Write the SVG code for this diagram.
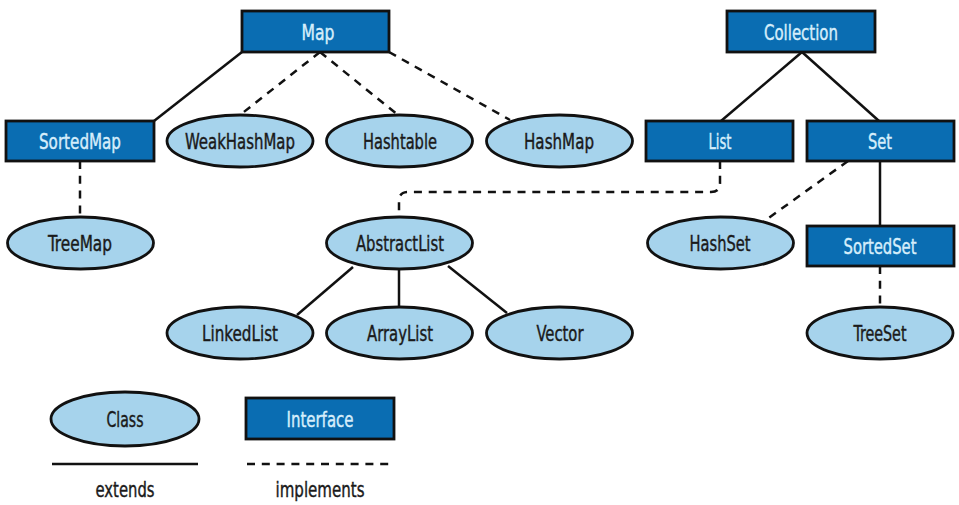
<svg xmlns="http://www.w3.org/2000/svg" width="959" height="505" viewBox="0 0 959 505">
<style>
.iface rect{fill:#0a6db2;stroke:#111;stroke-width:2.8}
.cls ellipse{fill:#a6d3ec;stroke:#111;stroke-width:2.8}
text{font-family:"DejaVu Sans Condensed","Liberation Sans",Arial,sans-serif;font-stretch:condensed;font-size:21px;text-anchor:middle;stroke-width:0.4}
.iface text{fill:#d6eefb;stroke:#d6eefb}
.cls text,.lbl{fill:#1a1a1a;stroke:#1a1a1a}
.ext{stroke:#111;stroke-width:2.5;fill:none}
.imp{stroke:#111;stroke-width:2.5;fill:none;stroke-dasharray:8,6.8}
</style>
<rect width="959" height="505" fill="#fff"/>
<g id="connectors">
<line class="ext" x1="242" y1="52" x2="154" y2="121"/>
<line class="imp" x1="320" y1="52" x2="240" y2="115"/>
<line class="imp" x1="320" y1="52" x2="398" y2="115"/>
<line class="imp" x1="389" y1="52" x2="510" y2="120"/>
<line class="imp" x1="80" y1="161" x2="80" y2="217"/>
<line class="ext" x1="802" y1="52" x2="721" y2="121"/>
<line class="ext" x1="802" y1="52" x2="879" y2="121"/>
<line class="ext" x1="880" y1="161" x2="880" y2="226"/>
<line class="imp" x1="848" y1="161" x2="763" y2="222"/>
<path class="imp" d="M720,161 V183 Q720,192 711,192 H408 Q399,192 399,201 V217"/>
<line class="ext" x1="353" y1="267" x2="297" y2="315"/>
<line class="ext" x1="399" y1="269" x2="399" y2="307"/>
<line class="ext" x1="448" y1="266" x2="507" y2="313"/>
<line class="imp" x1="880" y1="266" x2="880" y2="307"/>
</g>
<g id="Map" class="iface"><rect x="242" y="11" width="147" height="41"/><text x="318" y="40" textLength="33" lengthAdjust="spacingAndGlyphs">Map</text></g>
<g id="SortedMap" class="iface"><rect x="6" y="121" width="148" height="40"/><text x="80" y="149" textLength="82" lengthAdjust="spacingAndGlyphs">SortedMap</text></g>
<g id="WeakHashMap" class="cls"><ellipse cx="240" cy="141" rx="73" ry="26"/><text x="240" y="149" textLength="110" lengthAdjust="spacingAndGlyphs">WeakHashMap</text></g>
<g id="Hashtable" class="cls"><ellipse cx="399.5" cy="141" rx="73" ry="26"/><text x="400" y="149" textLength="74" lengthAdjust="spacingAndGlyphs">Hashtable</text></g>
<g id="HashMap" class="cls"><ellipse cx="559.5" cy="141" rx="73" ry="26"/><text x="559" y="149" textLength="70" lengthAdjust="spacingAndGlyphs">HashMap</text></g>
<g id="TreeMap" class="cls"><ellipse cx="80.5" cy="243" rx="73" ry="26"/><text x="80" y="251" textLength="64" lengthAdjust="spacingAndGlyphs">TreeMap</text></g>
<g id="AbstractList" class="cls"><ellipse cx="399.5" cy="243" rx="73" ry="26"/><text x="400" y="251" textLength="88" lengthAdjust="spacingAndGlyphs">AbstractList</text></g>
<g id="Collection" class="iface"><rect x="727" y="11" width="148" height="41"/><text x="801" y="40" textLength="74" lengthAdjust="spacingAndGlyphs">Collection</text></g>
<g id="List" class="iface"><rect x="646" y="121" width="147" height="40"/><text x="720" y="149" textLength="23" lengthAdjust="spacingAndGlyphs">List</text></g>
<g id="Set" class="iface"><rect x="807" y="121" width="147" height="40"/><text x="880" y="149" textLength="24" lengthAdjust="spacingAndGlyphs">Set</text></g>
<g id="HashSet" class="cls"><ellipse cx="720.5" cy="243" rx="73" ry="26"/><text x="720" y="251" textLength="61" lengthAdjust="spacingAndGlyphs">HashSet</text></g>
<g id="SortedSet" class="iface"><rect x="807" y="226" width="147" height="40"/><text x="880" y="254" textLength="73" lengthAdjust="spacingAndGlyphs">SortedSet</text></g>
<g id="LinkedList" class="cls"><ellipse cx="240" cy="333" rx="73" ry="26"/><text x="240" y="341" textLength="76" lengthAdjust="spacingAndGlyphs">LinkedList</text></g>
<g id="ArrayList" class="cls"><ellipse cx="399.5" cy="333" rx="73" ry="26"/><text x="400" y="341" textLength="66" lengthAdjust="spacingAndGlyphs">ArrayList</text></g>
<g id="Vector" class="cls"><ellipse cx="559.5" cy="333" rx="73" ry="26"/><text x="560" y="341" textLength="47" lengthAdjust="spacingAndGlyphs">Vector</text></g>
<g id="TreeSet" class="cls"><ellipse cx="880" cy="333" rx="73" ry="26"/><text x="880" y="341" textLength="53" lengthAdjust="spacingAndGlyphs">TreeSet</text></g>
<g id="legend">
<g id="ClassLegend" class="cls"><ellipse cx="125" cy="419" rx="74" ry="27"/><text x="125" y="427" textLength="37" lengthAdjust="spacingAndGlyphs">Class</text></g>
<g id="InterfaceLegend" class="iface"><rect x="246" y="398" width="148" height="41"/><text x="320" y="427" textLength="67" lengthAdjust="spacingAndGlyphs">Interface</text></g>
<line class="ext" x1="52" y1="464" x2="198" y2="464"/>
<line class="imp" x1="247" y1="464" x2="389" y2="464"/>
<text class="lbl" x="125" y="497" textLength="59" lengthAdjust="spacingAndGlyphs">extends</text>
<text class="lbl" x="320" y="497" textLength="89" lengthAdjust="spacingAndGlyphs">implements</text>
</g>
</svg>
